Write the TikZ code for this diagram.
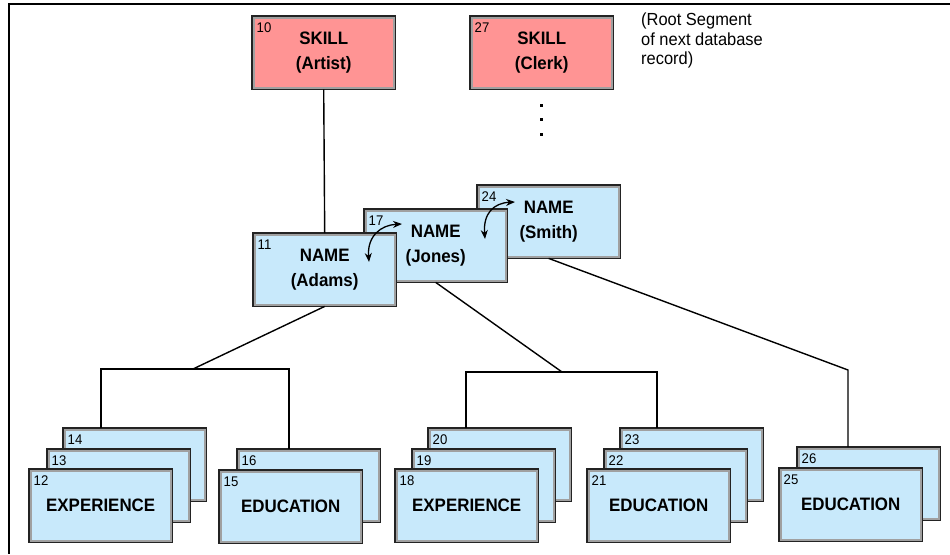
\documentclass[tikz,border=0pt]{standalone}
\usepackage{fontspec}
\setmainfont{Liberation Sans}[FakeStretch=0.94]
\usetikzlibrary{arrows.meta}
\definecolor{segpink}{RGB}{255,148,148}
\definecolor{segblue}{RGB}{200,233,251}
\definecolor{seggrey}{RGB}{160,160,160}
\definecolor{segdark}{RGB}{35,35,35}
\tikzset{
 seg/.style={rectangle, minimum width=143pt, minimum height=73pt, inner sep=0pt, align=center,
   font=\fontsize{18}{24.5}\selectfont\bfseries, text=black},
 segedge/.style={draw=segdark, line width=1.5pt},
 seginner/.style={draw=seggrey, line width=1.6pt},
 segnum/.style={font=\fontsize{14}{15}\selectfont, inner sep=0pt, anchor=base west},
 conn/.style={draw=black, line width=1.4pt},
 frameline/.style={draw=black, line width=1.5pt},
 swaparrow/.style={line width=1.3pt, {Stealth[length=9pt,width=7pt]}-{Stealth[length=9pt,width=7pt]}},
}
\newcommand{\segbox}[5]{%
 \node[seg, fill=#3, anchor=north west] (#1) at (#2) {#5};
 \draw[seginner] ([shift={(1.7pt,1.7pt)}]#1.south west) rectangle ([shift={(-1.7pt,-1.7pt)}]#1.north east);
 \draw[segedge] (#1.south west) rectangle (#1.north east);
 \node[segnum] (#1n) at ([shift={(4.5pt,-16pt)}]#1.north west) {#4};
}
\begin{document}
\begin{tikzpicture}[x=1pt, y=-1pt]
\useasboundingbox (0,0) rectangle (950,554);
% frame
\draw[frameline] (950,4) -- (9,4) -- (9,554);

% root segments
\segbox{skillA}{252,16}{segpink}{10}{SKILL\\(Artist)}
\segbox{skillC}{470,16}{segpink}{27}{SKILL\\(Clerk)}
\node[anchor=north west, align=left, inner sep=0pt, font=\fontsize{17.5}{19.5}\selectfont] (note) at (641,13)
  {(Root Segment\\of next database\\record)};
\fill (539.5,103.5) rectangle ++(3,3);
\fill (539.5,117.5) rectangle ++(3,3);
\fill (539.5,132.5) rectangle ++(3,3);

% name segments
\segbox{smith}{477,185}{segblue}{24}{NAME\\(Smith)}
\segbox{jones}{364,209}{segblue}{17}{NAME\\(Jones)}
\segbox{adams}{253,233}{segblue}{11}{NAME\\(Adams)}

% dependents of Adams
\segbox{b14}{63,428}{segblue}{14}{}
\segbox{b13}{47,449}{segblue}{13}{}
\segbox{b12}{29,469}{segblue}{12}{EXPERIENCE}
\segbox{b16}{237,449}{segblue}{16}{}
\segbox{b15}{219,470}{segblue}{15}{EDUCATION}

% dependents of Jones
\segbox{b20}{428,428}{segblue}{20}{}
\segbox{b19}{412,449}{segblue}{19}{}
\segbox{b18}{395,469}{segblue}{18}{EXPERIENCE}
\segbox{b23}{620,428}{segblue}{23}{}
\segbox{b22}{604,449}{segblue}{22}{}
\segbox{b21}{587,469}{segblue}{21}{EDUCATION}

% dependents of Smith
\segbox{b26}{797,447}{segblue}{26}{}
\segbox{b25}{779,468}{segblue}{25}{EDUCATION}

% connectors
\coordinate (aJ) at (193,369);
\coordinate (aL) at (101,369);
\coordinate (aR) at (289,369);
\coordinate (jJ) at (562,372);
\coordinate (jL) at (466,372);
\coordinate (jR) at (657,372);
\coordinate (sJ) at (848,370);

\draw[conn] (skillA.south) -- (adams.north);
\draw[conn] (adams.south) -- (aJ);
\draw[conn] (aL |- b14.north) -- (aL) -- (aR) -- (aR |- b16.north);
\draw[conn] (jones.south) -- (jJ);
\draw[conn] (jL |- b20.north) -- (jL) -- (jR) -- (jR |- b23.north);
\draw[conn] (smith.south) -- (sJ) -- (sJ |- b26.north);

% twin pointers
\coordinate (t1a) at (369,262);
\coordinate (t1b) at (402,224);
\coordinate (t2a) at (485,239);
\coordinate (t2b) at (515,202);
\draw[swaparrow] (t1a) .. controls (367,236) and (381,225) .. (t1b);
\draw[swaparrow] (t2a) .. controls (483,213) and (494,203) .. (t2b);
\end{tikzpicture}
\end{document}
